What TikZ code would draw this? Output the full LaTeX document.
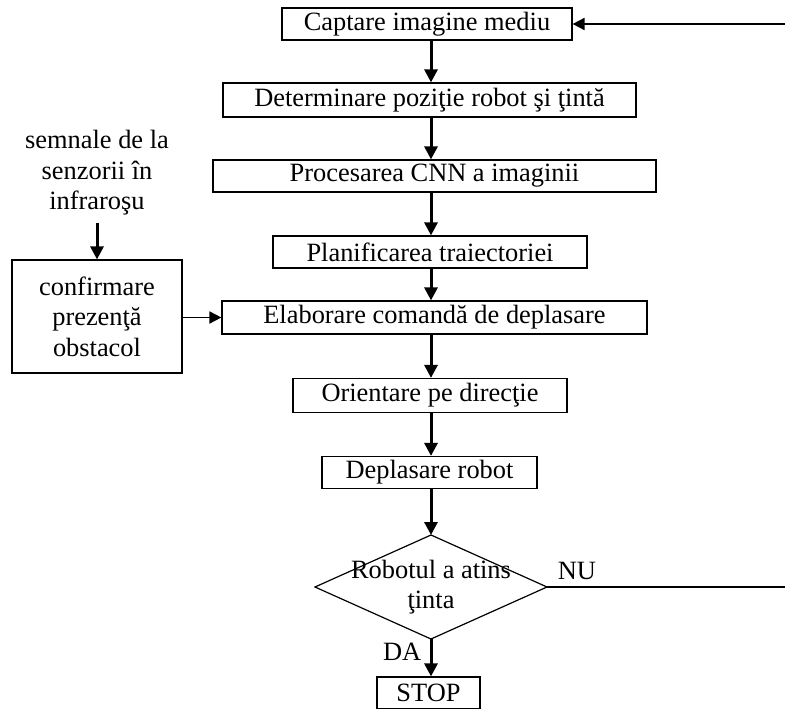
\documentclass[tikz,border=0pt]{standalone}
\usepackage{fontspec}
\setmainfont{Liberation Serif}
\usetikzlibrary{arrows.meta}

\tikzset{
  block/.style={draw, line width=1.2pt, minimum height=32pt, inner sep=0pt},
  flow/.style={line width=3pt, -{Triangle[width=13pt,length=13pt]}},
  thinflow/.style={line width=1.8pt, -{Triangle[width=12pt,length=12pt]}},
}

\begin{document}
\begin{tikzpicture}[x=1pt, y=-1pt, font=\fontsize{26.4}{30.5}\selectfont]
  \useasboundingbox (0,0) rectangle (785,709);

  % Main column of steps
  \node[block, minimum width=290pt] (capt) at (427,24) {Captare imagine mediu};
  \node[block, minimum width=413pt, minimum height=34pt] (det) at (429.5,100) {Determinare poziţie robot şi ţintă};
  \node[block, minimum width=443pt] (proc) at (434.5,176) {Procesarea CNN a imaginii};
  \node[block, minimum width=314pt] (plan) at (430,252) {Planificarea traiectoriei};
  \node[block, minimum width=425pt, minimum height=33pt] (elab) at (434.5,317.5) {Elaborare comandă de deplasare};
  \node[block, minimum width=274pt, minimum height=34pt] (orient) at (430,395.5) {Orientare pe direcţie};
  \node[block, minimum width=215pt] (depl) at (429.5,472.5) {Deplasare robot};

  % Decision rhombus, corners as coordinates
  \coordinate (test) at (431,587);
  \coordinate (test-n) at (431,535);
  \coordinate (test-e) at (547,587);
  \coordinate (test-s) at (431,639);
  \coordinate (test-w) at (315,587);
  \draw[line width=1.2pt] (test-w) -- (test-n) -- (test-e) -- (test-s) -- cycle;
  \node[align=center] (testtxt) at (test) {Robotul a atins\\ţinta};

  \node[block, minimum width=103pt] (stop) at (428.5,693) {STOP};

  % Sensor branch on the left
  \node[align=center] (sens) at (97,173) {semnale de la\\senzorii în\\infraroşu};
  \node[block, minimum width=170pt, minimum height=113pt, align=center] (conf) at (97,316.5)
    {confirmare\\prezenţă\\obstacol};

  \coordinate (spine) at (431,0); % all vertical arrows share this x

  \foreach \a/\b in {capt/det, det/proc, proc/plan, plan/elab, elab/orient, orient/depl} {
    \draw[flow] (\a.south -| spine) -- (\b.north -| spine);
  }
  \draw[flow] (depl.south -| spine) -- (test-n); % into the test
  \draw[flow] (test-s) -- (stop.north -| spine) node[pos=0.35, left=5pt] {DA};

  \draw[flow] (sens.south) ++(0,4) -- (conf.north);
  \draw[thinflow] (conf.east |- elab) -- (elab.west);

  % Loop back when the target is not reached
  \draw[thinflow] (test-e) -- node[pos=0.12, above=3pt] {NU} ++(250,0) |- (capt.east);
\end{tikzpicture}
\end{document}
